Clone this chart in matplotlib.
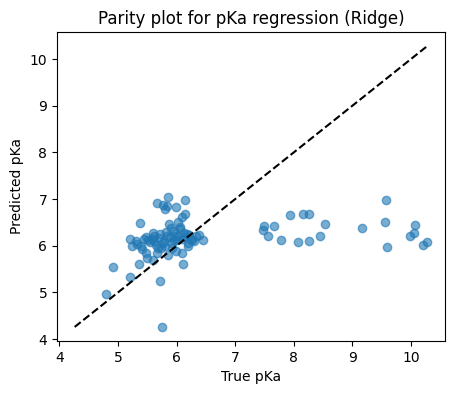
import matplotlib
matplotlib.use("Agg")
import matplotlib.pyplot as plt
import numpy as np

true_pka = [
    # high-pKa group
    7.50, 7.48, 7.56, 7.66, 7.79, 7.93, 8.07, 8.16, 8.26, 8.26, 8.45, 8.54,
    9.16, 9.57, 9.55, 9.60, 10.07, 10.05, 9.99, 10.28, 10.21,
    # outliers / sparse
    5.75, 4.80, 4.91, 5.20, 5.36, 5.71, 6.11, 5.38,
    # upper cloud
    5.86, 6.14, 5.66, 5.76, 5.84, 5.80, 5.99, 6.15, 6.09, 6.02, 5.87, 6.05,
    # main cluster
    6.18, 6.39, 6.45, 6.26, 5.21, 5.24, 5.33, 5.47, 5.50, 5.59, 5.67, 5.93,
    5.99, 6.09, 6.19, 6.30, 5.41, 5.61, 5.84, 5.96, 5.90, 5.59, 5.47, 5.76,
    5.45, 5.52, 5.62, 5.70, 5.78, 5.88, 5.95, 6.03, 6.10, 6.22, 5.55, 5.65,
    5.72, 5.82, 5.92, 6.00, 6.12, 6.20, 5.40, 5.68, 5.80, 5.97, 6.06, 6.14,
    5.30, 5.58, 5.85, 6.25, 5.74, 6.33,
]
pred_pka = [
    6.43, 6.33, 6.21, 6.42, 6.13, 6.66, 6.08, 6.69, 6.69, 6.11, 6.21, 6.46,
    6.37, 6.99, 6.50, 5.97, 6.44, 6.28, 6.20, 6.08, 6.01,
    4.26, 4.97, 5.54, 5.34, 5.61, 5.24, 5.61, 6.48,
    7.05, 6.98, 6.91, 6.87, 6.85, 6.78, 6.83, 6.69, 6.62, 6.51, 6.47, 6.40,
    6.25, 6.23, 6.13, 6.12, 6.14, 5.99, 6.03, 5.85, 5.73, 5.69, 5.85, 5.96,
    5.88, 5.85, 5.99, 6.10, 5.92, 6.10, 6.21, 6.31, 6.38, 6.28, 6.18, 6.06,
    6.15, 6.12, 6.20, 6.16, 6.10, 6.18, 6.13, 6.20, 6.15, 6.22, 6.08, 6.02,
    6.25, 6.30, 6.05, 6.12, 6.28, 6.05, 6.00, 5.95, 6.00, 6.20, 6.35, 6.18,
    6.10, 6.15, 5.80, 6.15, 5.95, 6.20,
]

fig = plt.figure(figsize=(4.54, 3.93), dpi=100)
ax = fig.add_axes([0.1256, 0.1323, 0.8544, 0.7863])
ax.scatter(true_pka, pred_pka, alpha=0.6)
lo = min(min(true_pka), min(pred_pka))
hi = max(max(true_pka), max(pred_pka))
ax.plot([lo, hi], [lo, hi], "k--")
ax.set_xlabel("True pKa")
ax.set_ylabel("Predicted pKa")
ax.set_title("Parity plot for pKa regression (Ridge)")
fig.savefig("out.png", dpi=100)
